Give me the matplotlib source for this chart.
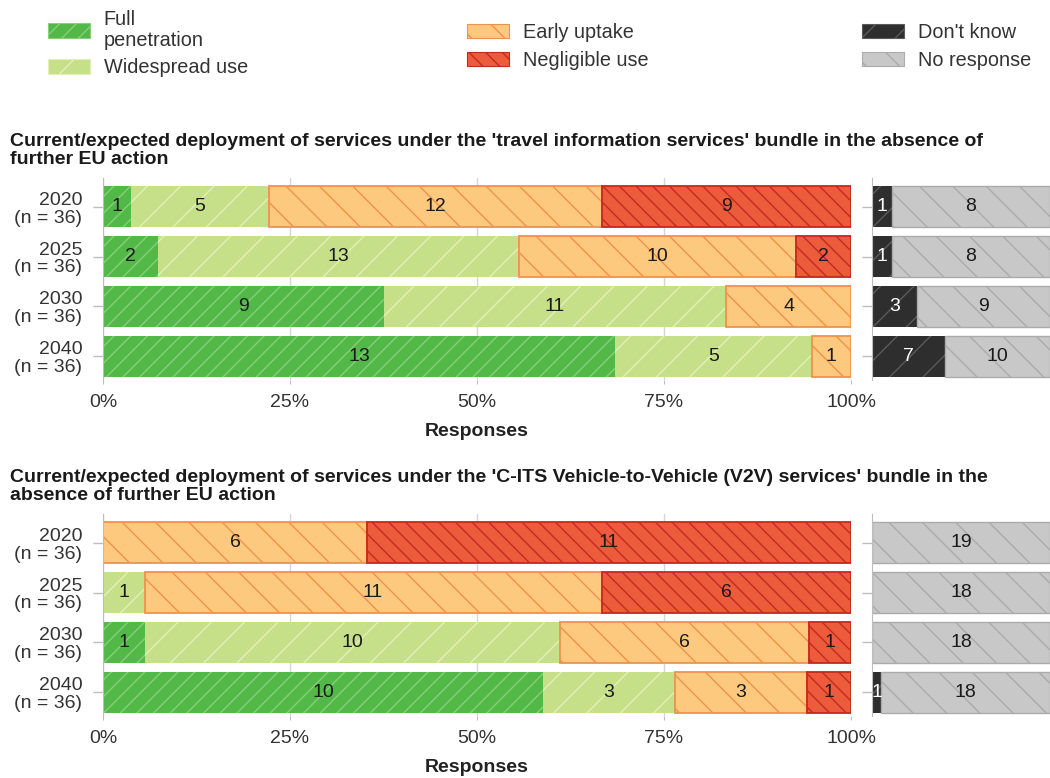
import matplotlib
matplotlib.use('Agg')
import matplotlib.pyplot as plt
from matplotlib.patches import Patch
import numpy as np

plt.rcParams['font.family'] = ['Liberation Sans', 'DejaVu Sans']
plt.rcParams['hatch.linewidth'] = 1.0

# ---------------- data ----------------
categories = ['2020\n(n = 36)', '2025\n(n = 36)', '2030\n(n = 36)', '2040\n(n = 36)']
series_names = ['Full\npenetration', 'Widespread use', 'Early uptake', 'Negligible use',
                "Don't know", 'No response']

title_top = ("Current/expected deployment of services under the 'travel information services' bundle in the absence of\n"
             "further EU action")
title_bottom = ("Current/expected deployment of services under the 'C-ITS Vehicle-to-Vehicle (V2V) services' bundle in the\n"
                "absence of further EU action")

top_full = [1, 2, 9, 13]
top_wide = [5, 13, 11, 5]
top_early = [12, 10, 4, 1]
top_negl = [9, 2, 0, 0]
top_dk = [1, 1, 3, 7]
top_nr = [8, 8, 9, 10]

bot_full = [0, 0, 1, 10]
bot_wide = [0, 1, 10, 3]
bot_early = [6, 11, 6, 3]
bot_negl = [11, 6, 1, 1]
bot_dk = [0, 0, 0, 1]
bot_nr = [19, 18, 18, 18]

xticks = [0, 0.25, 0.5, 0.75, 1.0]
xticklabels = ['0%', '25%', '50%', '75%', '100%']

# ---------------- styles ----------------
styles = [
    dict(fc='#52b848', hc='#86d078', hatch='//', lw=0.0, tc='#1a1a1a'),
    dict(fc='#c6e08a', hc='#e2f0b8', hatch='/', lw=0.0, tc='#1a1a1a'),
    dict(fc='#fdc97e', hc='#f2914a', hatch='\\', lw=1.3, tc='#1a1a1a'),
    dict(fc='#ec5b3c', hc='#c42a1e', hatch='\\\\', lw=1.3, tc='#1a1a1a'),
    dict(fc='#2e2e2e', hc='#5a5a5a', hatch='/', lw=0.0, tc='white'),
    dict(fc='#c8c8c8', hc='#ababab', hatch='\\', lw=1.0, tc='#1a1a1a'),
]

W, H = 1050, 778
fig = plt.figure(figsize=(W / 100, H / 100), dpi=100)

FS = 14
AXC = '#bdbdbd'
TXT = '#333333'


def px_axes(x0, y0, x1, y1):
    return fig.add_axes([x0 / W, 1 - y1 / H, (x1 - x0) / W, (y1 - y0) / H])


def draw_panel(ax_main, ax_side, main_series, side_series):
    y = np.arange(len(categories))
    main_total = np.sum(np.array(main_series, dtype=float), axis=0)
    side_total = np.sum(np.array(side_series, dtype=float), axis=0)
    left = np.zeros(len(categories))
    for vals, st in zip(main_series, styles[:4]):
        vals = np.array(vals, dtype=float)
        frac = vals / main_total
        lws = [st['lw'] if v > 0 else 0 for v in vals]
        bars = ax_main.barh(y, frac, left=left, height=0.82, color=st['fc'],
                            edgecolor=st['hc'], hatch=st['hatch'], linewidth=lws, zorder=2)
        labels = [str(int(v)) if v > 0 else '' for v in vals]
        ax_main.bar_label(bars, labels=labels, label_type='center', fontsize=FS,
                          color=st['tc'], zorder=3)
        left += frac
    left = np.zeros(len(categories))
    for vals, st in zip(side_series, styles[4:]):
        vals = np.array(vals, dtype=float)
        frac = vals / side_total
        lws = [st['lw'] if v > 0 else 0 for v in vals]
        bars = ax_side.barh(y, frac, left=left, height=0.82, color=st['fc'],
                            edgecolor=st['hc'], hatch=st['hatch'], linewidth=lws, zorder=2)
        labels = [str(int(v)) if v > 0 else '' for v in vals]
        ax_side.bar_label(bars, labels=labels, label_type='center', fontsize=FS,
                          color=st['tc'], zorder=3)
        left += frac

    for ax in (ax_main, ax_side):
        ax.set_ylim(3.48, -0.58)
        ax.set_yticks(y)
        for s in ('top', 'right', 'bottom'):
            ax.spines[s].set_visible(False)
        ax.spines['left'].set_color(AXC)
        ax.tick_params(axis='y', length=7, color=AXC, width=1)
    ax_main.set_yticklabels(categories, fontsize=FS, color=TXT, linespacing=1.05)
    ax_main.tick_params(axis='y', pad=8)
    ax_side.set_yticklabels([])
    ax_main.set_xlim(0, 1)
    ax_main.set_xticks(xticks)
    ax_main.set_xticklabels(xticklabels, fontsize=FS, color=TXT)
    ax_main.tick_params(axis='x', length=3, color=AXC, pad=7)
    ax_main.grid(axis='x', color='#d6d6d6', linewidth=1)
    ax_main.set_axisbelow(True)
    ax_main.set_xlabel('Responses', fontsize=FS, fontweight='bold', color='#222222', labelpad=9)
    ax_side.set_xlim(0, 1)
    ax_side.set_xticks([])


ax1 = px_axes(103, 178, 851, 380)
ax2 = px_axes(872, 178, 1050, 380)
draw_panel(ax1, ax2, [top_full, top_wide, top_early, top_negl], [top_dk, top_nr])

ax3 = px_axes(103, 514, 851, 716)
ax4 = px_axes(872, 514, 1050, 716)
draw_panel(ax3, ax4, [bot_full, bot_wide, bot_early, bot_negl], [bot_dk, bot_nr])

fig.text(10 / W, 1 - 133 / H, title_top, fontsize=14.0, fontweight='bold', color='#1a1a1a',
         ha='left', va='top', linespacing=1.1)
fig.text(10 / W, 1 - 469 / H, title_bottom, fontsize=14.0, fontweight='bold', color='#1a1a1a',
         ha='left', va='top', linespacing=1.1)

# ---------------- legends ----------------
handles = [Patch(facecolor=st['fc'], edgecolor=st['hc'], hatch=st['hatch'], linewidth=0.8)
           for st in styles]
leg_kw = dict(frameon=False, fontsize=14.3, handlelength=2.1, handleheight=0.75,
              handletextpad=0.7, labelspacing=0.45, borderpad=0, borderaxespad=0,
              loc='upper left', labelcolor='#333333')
positions = [(48, 10), (467, 23), (862, 23)]
for i, (x, yy) in enumerate(positions):
    lg = fig.legend(handles[2 * i:2 * i + 2], series_names[2 * i:2 * i + 2],
                    bbox_to_anchor=(x / W, 1 - yy / H), **leg_kw)
    for t in lg.get_texts():
        t.set_linespacing(1.1)

fig.savefig('out.png', dpi=100)
